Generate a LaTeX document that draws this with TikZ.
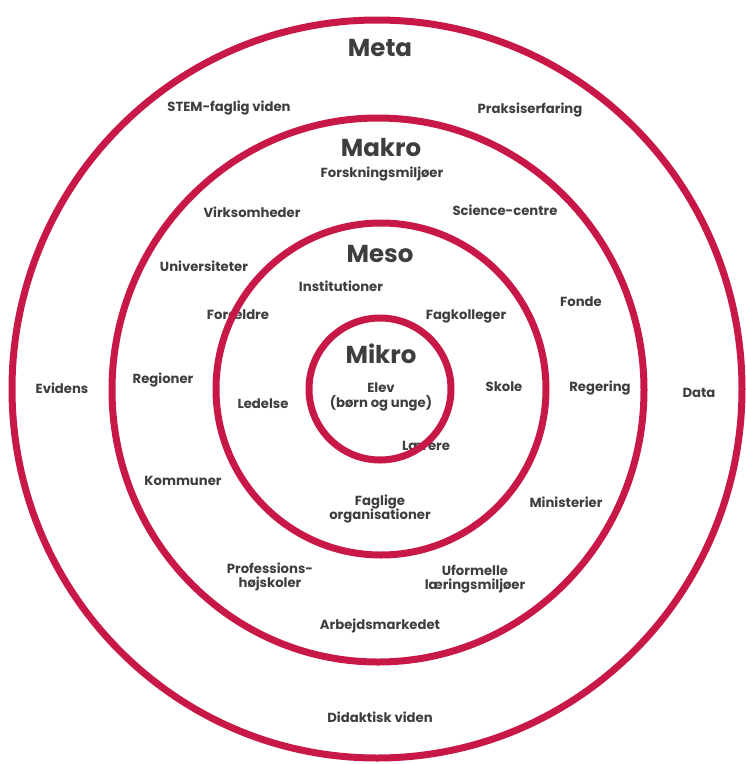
\documentclass[tikz,border=0pt]{standalone}
\usepackage{fontspec}
\setmainfont{Poppins}
\definecolor{ring}{RGB}{200,24,72}
\definecolor{txt}{RGB}{62,62,62}
\tikzset{
  lbl/.style={text=txt, font=\bfseries\fontsize{13.2}{14.5}\selectfont, align=center, inner sep=0pt},
  ttl/.style={text=txt, font=\bfseries\fontsize{24.5}{27}\selectfont, inner sep=0pt},
  ringline/.style={draw=ring, line width=7pt}
}
\begin{document}
\begin{tikzpicture}[x=1pt,y=-1pt]
\useasboundingbox (0,0) rectangle (746,764);
% titles
\node[ttl] (meta) at (380,48) {Meta};
\node[ttl] (makro) at (381,148) {Makro};
\node[ttl] (meso) at (380,254) {Meso};
\node[ttl] (mikro) at (381,354) {Mikro};
% labels
\node[lbl] (stem) at (229,108) {STEM-faglig viden};
\node[lbl] (praksis) at (530,110) {Praksiserfaring};
\node[lbl] (forsk) at (382,174) {Forskningsmiljøer};
\node[lbl] (virk) at (252,212) {Virksomheder};
\node[lbl] (science) at (505,210) {Science-centre};
\node[lbl] (univ) at (204,266) {Universiteter};
\node[lbl] (inst) at (341,286) {Institutioner};
\node[lbl] (foraeldre) at (238,315) {Forældre};
\node[lbl] (fagkol) at (466,316) {Fagkolleger};
\node[lbl] (fonde) at (581,302) {Fonde};
\node[lbl] (evidens) at (62,388) {Evidens};
\node[lbl] (regioner) at (163,380) {Regioner};
\node[lbl] (elev) at (381,397) {Elev\\(børn og unge)};
\node[lbl] (skole) at (504,387) {Skole};
\node[lbl] (regering) at (600,388) {Regering};
\node[lbl] (data) at (699,393) {Data};
\node[lbl] (ledelse) at (263,404) {Ledelse};
\node[lbl] (laerere) at (426,446) {Lærere};
\node[lbl] (kommuner) at (183,481) {Kommuner};
\node[lbl] (faglige) at (380,509) {Faglige\\organisationer};
\node[lbl] (minist) at (566,502) {Ministerier};
\node[lbl] (prof) at (270,577) {Professions-\\højskoler};
\node[lbl] (uform) at (475,579) {Uformelle\\læringsmiljøer};
\node[lbl] (arbejd) at (380,626) {Arbejdsmarkedet};
\node[lbl] (didak) at (380,717) {Didaktisk viden};
% rings
\draw[ringline] (377,389) ellipse [x radius=365, y radius=369];
\draw[ringline] (378,390) ellipse [x radius=266, y radius=272];
\draw[ringline] (381,389) ellipse [x radius=165, y radius=166];
\draw[ringline] (380,389) ellipse [x radius=71, y radius=71];
\end{tikzpicture}
\end{document}
